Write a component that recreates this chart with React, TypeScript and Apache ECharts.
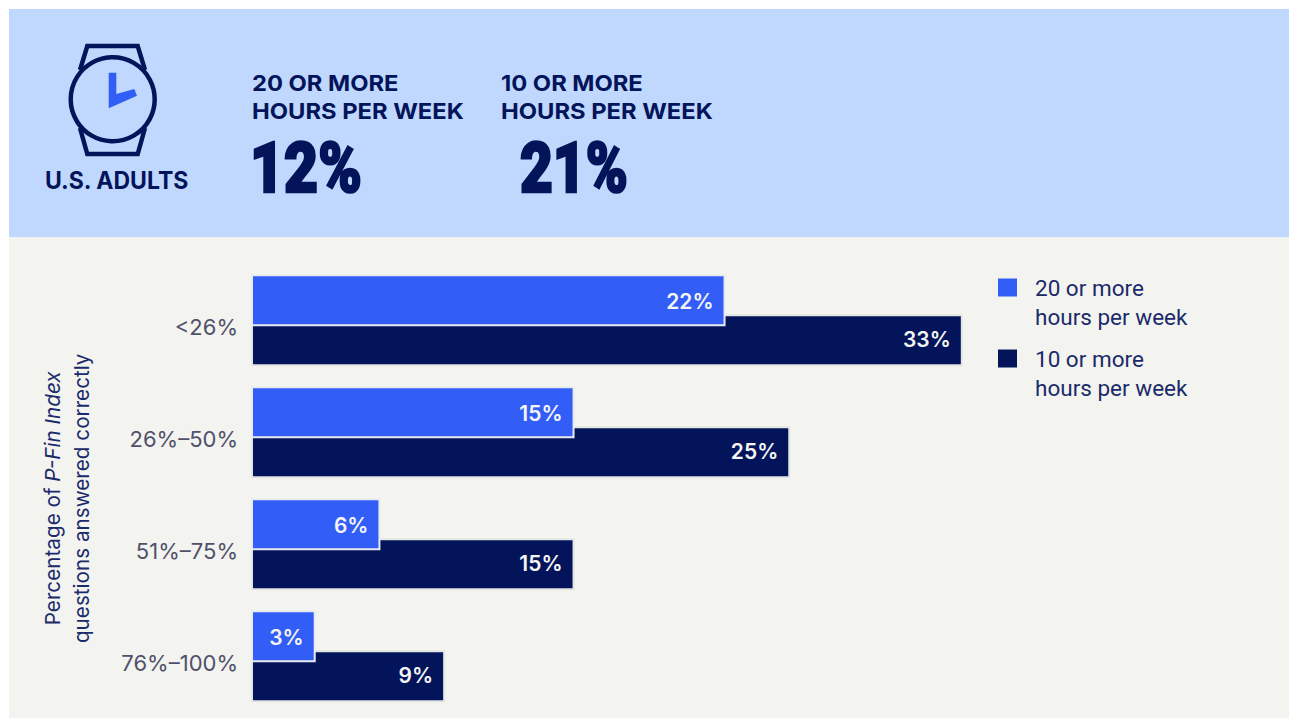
import React, { useEffect, useRef } from "react";
import * as echarts from "echarts";

const categories = ["<26%", "26%–50%", "51%–75%", "76%–100%"];
const seriesNames = ["20 or more\nhours per week", "10 or more\nhours per week"];
const twentyPlus = [22, 15, 6, 3];
const tenPlus = [33, 25, 15, 9];
const headline = [
  { heading: "20 OR MORE\nHOURS PER WEEK", value: "12%" },
  { heading: "10 OR MORE\nHOURS PER WEEK", value: "21%" },
];

const NAVY = "#03145a";
const BLUE = "#325df6";

export default function App() {
  const ref = useRef<HTMLDivElement>(null);
  useEffect(() => {
    const chart = echarts.init(ref.current!, null, { renderer: "svg" });
    const label = {
      show: true,
      position: "insideRight" as const,
      distance: 12,
      formatter: "{c}%",
      color: "#f4f5f4",
      fontFamily: "Inter",
      fontWeight: 600,
      fontSize: 21,
    };
    chart.setOption({
      animation: false,
      backgroundColor: "#ffffff",
      grid: { left: 251, top: 264.3, width: 862.8, height: 448, containLabel: false },
      xAxis: { type: "value", min: 0, max: 40, show: false },
      yAxis: {
        type: "category",
        inverse: true,
        data: categories,
        axisLine: { show: false },
        axisTick: { show: false },
        axisLabel: {
          margin: 13,
          color: "#50506c",
          fontFamily: "Inter",
          fontSize: 22,
          verticalAlign: "top",
          lineHeight: 14,
        },
        name: "{a|Percentage of }{i|P-Fin Index}\n{a|questions answered correctly}",
        nameLocation: "middle",
        nameRotate: 90,
        nameGap: 155,
        nameTextStyle: {
          padding: [0, 20, 0, 0],
          rich: {
            a: { fontFamily: "Inter", fontSize: 20.7, color: "#1b2a6b", lineHeight: 29 },
            i: { fontFamily: "Inter", fontSize: 20.7, fontStyle: "italic", color: "#1b2a6b", lineHeight: 29 },
          },
        },
      },
      legend: {
        orient: "vertical",
        left: 998,
        top: 244,
        padding: 0,
        itemWidth: 19,
        itemHeight: 18,
        itemGap: -16,
        itemStyle: { borderWidth: 0 },
        data: seriesNames,
        icon: "rect",
        formatter: (name: string) =>
          "\n" + name.split("\n").map((line) => `{a|${line}}`).join("\n"),
        textStyle: {
          color: "#1b2a6b",
          fontFamily: "Roboto",
          fontSize: 22.5,
          lineHeight: 29,
          rich: {
            a: {
              color: "#1b2a6b",
              fontFamily: "Roboto",
              fontSize: 22.5,
              lineHeight: 29,
              padding: [0, 0, 0, 13],
            },
          },
        },
      },
      series: [
        {
          name: seriesNames[0],
          type: "bar",
          data: twentyPlus,
          barWidth: 52,
          barGap: "-23.08%",
          z: 4,
          itemStyle: { color: BLUE, borderColor: "#e9ebef", borderWidth: 2 },
          label: { ...label, offset: [0, 1] },
        },
        {
          name: seriesNames[1],
          type: "bar",
          data: tenPlus,
          barWidth: 52,
          z: 3,
          itemStyle: { color: NAVY, borderColor: "#e4e5e5", borderWidth: 2 },
          label: { ...label, offset: [0, -1] },
        },
      ],
      graphic: [
        { type: "rect", z: -10, shape: { x: 9, y: 9, width: 1280, height: 228 }, style: { fill: "#c0d8fe" } },
        { type: "rect", z: -10, shape: { x: 9, y: 237, width: 1280, height: 481 }, style: { fill: "#f3f4ef" } },
        { type: "circle", shape: { cx: 112.7, cy: 99.3, r: 42 }, style: { fill: "none", stroke: NAVY, lineWidth: 4.5 } },
        { type: "polyline", shape: { points: [[80, 70], [87.3, 46], [137.7, 46], [145, 70]] }, style: { fill: "none", stroke: NAVY, lineWidth: 4.5 } },
        { type: "polyline", shape: { points: [[80, 128], [87.3, 154], [137.7, 154], [145, 128]] }, style: { fill: "none", stroke: NAVY, lineWidth: 4.5 } },
        { type: "polygon", shape: { points: [[108.7, 72.7], [116.3, 72.7], [116.3, 94], [134.3, 89], [137, 95.7], [108.7, 108.3]] }, style: { fill: BLUE } },
        { type: "text", x: 45, y: 168, scaleX: 0.96, style: { text: "U.S. ADULTS", fill: NAVY, fontFamily: "Inter", fontWeight: 700, fontSize: 24 } },
        { type: "text", x: 252, y: 69, scaleX: 1.08, style: { text: headline[0].heading, fill: NAVY, fontFamily: "Inter", fontWeight: 700, fontSize: 22, lineHeight: 28 } },
        { type: "text", x: 501, y: 69, scaleX: 1.08, style: { text: headline[1].heading, fill: NAVY, fontFamily: "Inter", fontWeight: 700, fontSize: 22, lineHeight: 28 } },
        { type: "text", x: 250, y: 133, scaleX: 0.84, style: { text: headline[0].value, fill: NAVY, stroke: NAVY, lineWidth: 2.5, fontFamily: "Roboto", fontWeight: 900, fontSize: 70 } },
        { type: "text", x: 520, y: 133, scaleX: 0.81, style: { text: headline[1].value, fill: NAVY, stroke: NAVY, lineWidth: 2.5, fontFamily: "Roboto", fontWeight: 900, fontSize: 70 } },
      ],
    });
    return () => chart.dispose();
  }, []);
  return <div ref={ref} style={{ position: "absolute", left: 0, top: 0, width: 1289, height: 719 }} />;
}
